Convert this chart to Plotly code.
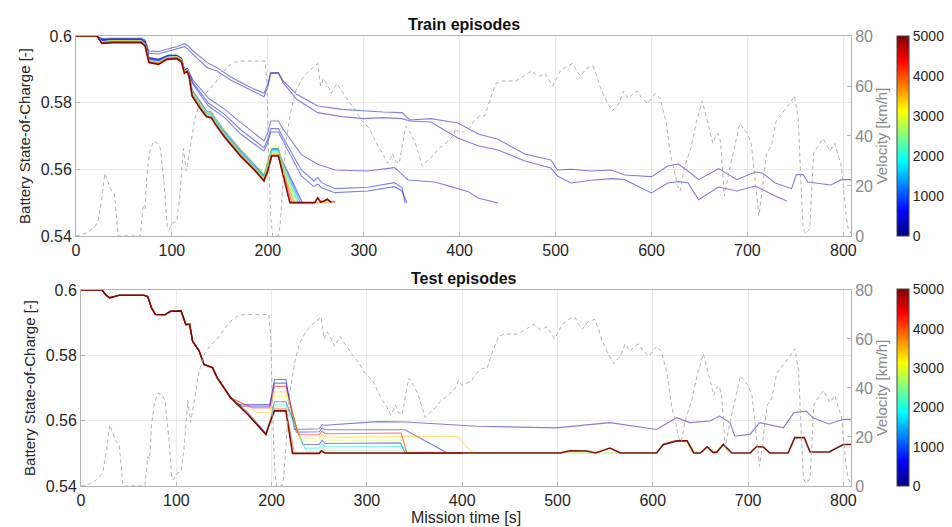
import plotly.graph_objects as go
from plotly.colors import sample_colorscale

# ---------------- data ----------------
# velocity profile (shared by both panels): time [s], velocity [km/h]
vel_t = [0, 10, 16, 20, 23, 27, 30, 34, 37, 40, 42, 44, 67, 69, 70, 72, 74, 77, 81, 85, 88, 90, 93, 95, 97, 100, 105, 108,
         112, 115, 118, 120, 124, 130, 135, 140, 145, 152, 159, 165, 173, 197, 199, 201, 203, 205, 211, 213, 214, 217,
         219, 224, 229, 236, 243, 252, 255, 258, 261, 264, 266, 270, 272, 277, 284, 292, 298, 306, 316, 320, 325, 328,
         330, 333, 337, 341, 344, 349, 353, 358, 361, 366, 372, 378, 382, 388, 393, 396, 400, 405, 410, 415, 421, 426,
         432, 438, 444, 451, 459, 467, 475, 481, 484, 489, 497, 505, 512, 518, 522, 526, 532, 539, 543, 547, 553, 559,
         566, 571, 576, 581, 585, 590, 596, 604, 609, 615, 620, 624, 627, 630, 634, 641, 647, 653, 658, 664, 667, 669,
         672, 676, 681, 685, 692, 700, 704, 706, 712, 716, 720, 725, 730, 738, 744, 749, 753, 756, 758, 761, 765, 769,
         772, 779, 786, 791, 798, 803, 805, 808]
vel_v = [0, 1, 2.5, 4, 6, 15, 25, 21, 18, 17, 8, 0, 0, 8, 12, 11, 25, 34, 38, 37, 35, 28, 16, 4, 2.5, 5, 6, 15,
         35, 26, 33, 38, 47, 54, 57, 59, 61, 65, 68, 69.5, 70, 70, 62, 30, 8, 0, 0, 5, 12, 28,
         38, 50, 58, 63, 66, 69, 60, 63, 61, 59, 57, 60, 61, 58, 54, 50, 46, 43, 35, 33, 29, 31,
         33, 30, 29, 38, 44, 41, 38, 32, 28, 30, 32, 35, 36, 38, 40, 43, 41, 42, 43, 46, 48, 48,
         55, 61, 62, 62, 62, 64, 66, 64, 64, 65, 60, 66, 68, 69, 66, 64, 67, 68, 64, 59, 54, 50,
         53, 58, 55, 57, 58, 55, 53, 57, 55, 46, 32, 26, 20, 18, 27, 35, 46, 54, 46, 37, 40, 41,
         38, 16, 26, 33, 45, 41, 37, 30, 8, 20, 33, 36, 46, 50, 53, 56, 47, 20, 3, 1, 3, 33,
         35, 39, 34, 37, 28, 8, 3, 1]

# ---- Train episodes ----
train_knots = [0, 22, 27, 38, 68, 72, 76, 86, 95, 105, 110, 113, 116, 118, 121, 130, 136, 141, 146, 155, 172, 186, 196,
               200, 204, 211, 214]
train_bundle_episodes = [800, 1200, 1600, 2000, 2400, 2900, 3300, 3700, 4300, 5000]
train_bundle_soc = [
    [0.6, 0.6, 0.5988, 0.599, 0.599, 0.598, 0.5932, 0.5928, 0.5942, 0.5942, 0.5933, 0.5898, 0.5903, 0.5888,
     0.5838, 0.5798, 0.5775, 0.5772, 0.575, 0.5715, 0.5657, 0.5614, 0.5582, 0.5622, 0.5662, 0.5662, 0.5632],
    [0.6, 0.6, 0.5987, 0.5989, 0.5989, 0.5979, 0.593, 0.5926, 0.594, 0.594, 0.5931, 0.5896, 0.5901, 0.5886,
     0.5834, 0.5793, 0.577, 0.5768, 0.5745, 0.571, 0.5652, 0.561, 0.5578, 0.5618, 0.566, 0.566, 0.5628],
    [0.6, 0.6, 0.5982, 0.5985, 0.5985, 0.5975, 0.5925, 0.592, 0.5935, 0.5937, 0.5928, 0.5893, 0.5898, 0.5882,
     0.583, 0.579, 0.5767, 0.5764, 0.5742, 0.5707, 0.5649, 0.5608, 0.5576, 0.5614, 0.5656, 0.5656, 0.5622],
    [0.6, 0.6, 0.5982, 0.5985, 0.5985, 0.5975, 0.5925, 0.592, 0.5935, 0.5937, 0.5928, 0.5893, 0.5898, 0.5882,
     0.5828, 0.5788, 0.5765, 0.5762, 0.574, 0.5705, 0.5647, 0.5606, 0.5574, 0.5612, 0.5654, 0.5654, 0.562],
    [0.6, 0.6, 0.5982, 0.5985, 0.5985, 0.5975, 0.5925, 0.592, 0.5935, 0.5937, 0.5928, 0.5893, 0.5898, 0.5882,
     0.5826, 0.5786, 0.5763, 0.576, 0.5738, 0.5703, 0.5645, 0.5604, 0.5572, 0.561, 0.565, 0.565, 0.5616],
    [0.6, 0.6, 0.5982, 0.5985, 0.5985, 0.5975, 0.5925, 0.592, 0.5935, 0.5937, 0.5928, 0.5893, 0.5898, 0.5882,
     0.5832, 0.5794, 0.5773, 0.577, 0.5748, 0.5716, 0.566, 0.5618, 0.5588, 0.5628, 0.5668, 0.5668, 0.5632],
    [0.6, 0.6, 0.5982, 0.5985, 0.5985, 0.5975, 0.5925, 0.592, 0.5935, 0.5937, 0.5928, 0.5893, 0.5898, 0.5882,
     0.5824, 0.5784, 0.5762, 0.5758, 0.5736, 0.5701, 0.5644, 0.5603, 0.557, 0.5607, 0.5648, 0.5648, 0.5614],
    [0.6, 0.6, 0.5981, 0.5984, 0.5984, 0.5974, 0.5924, 0.5919, 0.5934, 0.5936, 0.5927, 0.5892, 0.5897, 0.5881,
     0.5823, 0.5783, 0.576, 0.5757, 0.5734, 0.57, 0.5642, 0.5601, 0.5568, 0.5604, 0.5645, 0.5645, 0.561],
    [0.6, 0.6, 0.5979, 0.5982, 0.5982, 0.5972, 0.5922, 0.5917, 0.5932, 0.5934, 0.5925, 0.589, 0.5895, 0.588,
     0.5821, 0.5781, 0.5759, 0.5756, 0.5733, 0.5698, 0.564, 0.56, 0.5567, 0.5598, 0.5642, 0.5642, 0.5607],
    [0.6, 0.6, 0.5978, 0.598, 0.598, 0.597, 0.592, 0.5915, 0.593, 0.5932, 0.5922, 0.5888, 0.5893, 0.5878,
     0.582, 0.578, 0.5758, 0.5755, 0.5732, 0.5696, 0.5638, 0.5598, 0.5565, 0.5595, 0.564, 0.564, 0.5605],
]
train_bundle_tail_t = [[236], [234], [232], [231], [229], [231], [228], [227, 262, 266, 270],
                       [225, 249, 252, 255, 259, 262, 266, 270], [223, 249, 252, 255, 259, 262, 266]]
train_bundle_tail_soc = [[0.55], [0.55], [0.55], [0.55], [0.55], [0.55], [0.55], [0.55, 0.55, 0.5504, 0.5502],
                         [0.55, 0.55, 0.5514, 0.5503, 0.5506, 0.5511, 0.5502, 0.5502],
                         [0.55, 0.55, 0.5515, 0.5502, 0.5505, 0.551, 0.5501]]

train_a_ep = 300
train_a_t = [0, 22, 27, 38, 68, 72, 76, 86, 98, 105, 113, 117, 122, 137, 147, 161, 179, 196, 200, 203, 211, 216, 230,
             252, 277, 300, 320, 340, 348, 370, 398, 420, 440, 468, 495, 502, 516, 537, 558, 572, 600, 617, 628, 638,
             649, 670, 689, 708, 716, 729, 746, 751, 758, 763, 787, 798, 808]
train_a_soc = [0.6, 0.6, 0.5992, 0.5993, 0.5993, 0.5988, 0.5955, 0.5953, 0.5963, 0.5968, 0.5977, 0.597, 0.5955,
               0.592, 0.5905, 0.5878, 0.585, 0.5828, 0.5855, 0.589, 0.589, 0.5865, 0.5825, 0.579, 0.578, 0.5775,
               0.5772, 0.577, 0.5748, 0.5752, 0.5739, 0.5705, 0.569, 0.5646, 0.5628, 0.5598, 0.56, 0.5595, 0.5598,
               0.5583, 0.5578, 0.561, 0.5616, 0.5595, 0.5569, 0.5602, 0.5569, 0.5592, 0.5588, 0.5559, 0.5542,
               0.5584, 0.5584, 0.5562, 0.5553, 0.5569, 0.5569]
train_b_ep = 350
train_b_t = [0, 22, 27, 38, 68, 72, 76, 86, 98, 105, 113, 117, 122, 137, 147, 161, 179, 196, 200, 203, 211, 216, 230,
             252, 277, 300, 320, 340, 348, 370, 398, 420, 440, 468, 495, 502, 516, 537, 558, 572, 600, 617, 628, 638,
             649, 670, 689, 708, 729, 741]
train_b_soc = [0.6, 0.6, 0.599, 0.599, 0.599, 0.5985, 0.5948, 0.5946, 0.5955, 0.596, 0.5968, 0.596, 0.5945, 0.5905,
               0.5895, 0.5868, 0.5842, 0.5818, 0.5848, 0.5888, 0.5888, 0.586, 0.581, 0.577, 0.5758, 0.5752, 0.5755,
               0.5752, 0.5745, 0.5742, 0.5694, 0.567, 0.5658, 0.5625, 0.5604, 0.558, 0.5559, 0.5567, 0.5572, 0.5569,
               0.5529, 0.5559, 0.5563, 0.556, 0.5509, 0.5547, 0.5535, 0.555, 0.552, 0.5505]
train_c_ep = 400
train_c_t = [0, 22, 27, 38, 68, 72, 76, 86, 97, 105, 110, 113, 116, 118, 122, 138, 155, 172, 196, 200, 203, 211, 216,
             235, 252, 270, 304, 332, 339, 346, 374, 391, 409, 419, 440]
train_c_soc = [0.6, 0.6, 0.5988, 0.599, 0.599, 0.598, 0.5935, 0.593, 0.5942, 0.5942, 0.5932, 0.5898, 0.5902, 0.589,
               0.5868, 0.5814, 0.578, 0.574, 0.5685, 0.571, 0.5745, 0.5745, 0.572, 0.5644, 0.5615, 0.5598, 0.5595,
               0.5605, 0.5588, 0.5568, 0.5562, 0.5548, 0.5533, 0.5514, 0.5499]
train_d_ep = 450
train_d_t = [0, 22, 27, 38, 68, 72, 76, 86, 97, 105, 110, 113, 116, 118, 122, 138, 155, 172, 196, 200, 203, 211, 216,
             235, 248, 252, 256, 270, 304, 332, 340, 343]
train_d_soc = [0.6, 0.6, 0.5988, 0.599, 0.599, 0.598, 0.5935, 0.593, 0.5942, 0.5942, 0.5932, 0.5898, 0.5902, 0.5888,
               0.586, 0.5799, 0.5765, 0.5718, 0.5665, 0.569, 0.5722, 0.5722, 0.5695, 0.5598, 0.5565, 0.5575, 0.556,
               0.5542, 0.5546, 0.556, 0.5545, 0.5499]
train_e_ep = 500
train_e_t = [0, 22, 27, 38, 68, 72, 76, 86, 97, 105, 110, 113, 116, 118, 122, 138, 155, 172, 196, 200, 203, 211, 216,
             235, 248, 252, 256, 270, 304, 332, 340, 345]
train_e_soc = [0.6, 0.6, 0.5986, 0.5988, 0.5988, 0.5978, 0.593, 0.5926, 0.594, 0.594, 0.593, 0.5895, 0.59, 0.5885,
               0.5855, 0.579, 0.5755, 0.5705, 0.5655, 0.568, 0.5712, 0.5712, 0.5685, 0.558, 0.5548, 0.5556, 0.5545,
               0.553, 0.5535, 0.5548, 0.5535, 0.5499]

# ---- Test episodes ----
test_head_t = [0, 22, 26, 30, 40, 66, 70, 74, 78, 88, 94, 105, 110, 114, 117, 124, 129, 138, 143, 157]
test_head_soc = [0.6, 0.6, 0.5985, 0.5976, 0.5984, 0.5984, 0.598, 0.5945, 0.5925, 0.5924, 0.5935, 0.5936, 0.5894,
                 0.5895, 0.5844, 0.5813, 0.5772, 0.5762, 0.5731, 0.567]
test_episodes = [300, 500, 700, 1800, 2400, 3000, 3400, 4000, 4400, 5000]
test_tail_t = [
    [165, 198, 203, 215, 224, 250, 253, 256, 311, 340, 416, 499, 555, 604, 625, 639, 660, 670, 681, 686, 702, 712,
     737, 748, 761, 768, 785, 800, 808],
    [168, 198, 203, 215, 226, 250, 253, 256, 340, 385, 400],
    [175, 194, 198, 203, 215, 233, 250, 253, 256, 335, 340, 400],
    [175, 194, 198, 203, 215, 235, 250, 253, 256, 338, 342, 604, 611, 625, 636, 643, 650, 657, 667, 674, 681],
    [175, 194, 198, 203, 215, 237, 250, 253, 256, 340, 400],
    [175, 194, 198, 203, 215, 231, 250, 253, 256, 338, 344, 604, 611, 625, 634, 640, 650, 657, 667, 674, 681],
    [185, 198, 203, 215, 230, 250, 253, 256, 395, 410, 420],
    [175, 194, 198, 203, 215, 224, 250, 253, 256, 400],
    [180, 198, 203, 215, 228, 250, 253, 256, 336, 342, 400],
    [175, 194, 198, 203, 215, 222, 250, 252, 256, 400, 503, 513, 531, 540, 555, 566, 604, 611, 625, 636, 643, 650,
     657, 663, 667, 674, 683, 702, 709, 716, 723, 742, 749, 759, 765, 785, 800, 808],
]
test_tail_soc = [
    [0.5649, 0.5649, 0.5726, 0.5726, 0.5573, 0.5575, 0.5588, 0.5586, 0.5597, 0.5596, 0.5583, 0.5578, 0.5594,
     0.5573, 0.5609, 0.5594, 0.5599, 0.5614, 0.5594, 0.5553, 0.5558, 0.5594, 0.5578, 0.5624, 0.5629, 0.5609,
     0.559, 0.5604, 0.5604],
    [0.5644, 0.5644, 0.5715, 0.5715, 0.5565, 0.5566, 0.5578, 0.5572, 0.5572, 0.55, 0.5502],
    [0.5625, 0.5562, 0.5596, 0.5658, 0.5658, 0.5527, 0.5527, 0.554, 0.553, 0.5532, 0.5501, 0.5501],
    [0.562, 0.5559, 0.5593, 0.5648, 0.5648, 0.5516, 0.5516, 0.553, 0.552, 0.5521, 0.5501, 0.5501, 0.5525, 0.5537,
     0.5537, 0.5505, 0.5501, 0.5519, 0.5503, 0.5526, 0.5497],
    [0.562, 0.5558, 0.5592, 0.5642, 0.5642, 0.5506, 0.5506, 0.552, 0.5508, 0.5508, 0.5501],
    [0.5622, 0.556, 0.5594, 0.5675, 0.5675, 0.5537, 0.5537, 0.5549, 0.554, 0.5541, 0.5502, 0.5502, 0.5528, 0.554,
     0.5535, 0.5515, 0.5501, 0.552, 0.5505, 0.5528, 0.5492],
    [0.5625, 0.5625, 0.5688, 0.5688, 0.5547, 0.5547, 0.5558, 0.555, 0.5552, 0.5505, 0.5502],
    [0.5619, 0.5558, 0.5592, 0.5636, 0.5636, 0.55, 0.55, 0.5508, 0.5501, 0.5501],
    [0.5639, 0.5639, 0.5705, 0.5705, 0.5557, 0.5557, 0.5568, 0.556, 0.5562, 0.55, 0.5502],
    [0.5619, 0.5558, 0.5592, 0.563, 0.563, 0.55, 0.55, 0.5507, 0.5501, 0.5502, 0.5501, 0.5508, 0.5507, 0.5501,
     0.5516, 0.5501, 0.5501, 0.5527, 0.5538, 0.5538, 0.5501, 0.5501, 0.552, 0.5503, 0.5503, 0.5527, 0.5501,
     0.5501, 0.5521, 0.5519, 0.5501, 0.5501, 0.5548, 0.5548, 0.5504, 0.5504, 0.5527, 0.5527],
]

x_ticks = [0, 100, 200, 300, 400, 500, 600, 700, 800]
soc_ticks = [0.54, 0.56, 0.58, 0.6]
soc_ticktext = ["0.54", "0.56", "0.58", "0.6"]
vel_ticks = [0, 20, 40, 60, 80]
cbar_ticks = [0, 1000, 2000, 3000, 4000, 5000]
EP_MAX = 5000

# ---------------- styling ----------------
JET = [[0, "rgb(0,0,128)"], [0.125, "rgb(0,0,255)"], [0.375, "rgb(0,255,255)"],
       [0.625, "rgb(255,255,0)"], [0.875, "rgb(255,0,0)"], [1, "rgb(128,0,0)"]]


def ep_color(ep, alpha):
    c = sample_colorscale(JET, [ep / EP_MAX])[0]
    return c.replace("rgb(", "rgba(").replace(")", ",%g)" % alpha)


TXT = "#262626"
GRID = "#ebebeb"
AXL = "#b4b4b4"
VEL = "rgba(165,165,165,0.85)"
FONT = "Liberation Sans, Arial, sans-serif"

fig = go.Figure()

# velocity traces
fig.add_trace(go.Scatter(x=vel_t, y=vel_v, mode="lines", xaxis="x", yaxis="y3",
                         line=dict(color=VEL, width=1, dash="4px,3px"), hoverinfo="skip"))
fig.add_trace(go.Scatter(x=vel_t, y=vel_v, mode="lines", xaxis="x2", yaxis="y4",
                         line=dict(color=VEL, width=1, dash="4px,3px"), hoverinfo="skip"))

# train blue (early) episodes
for ep, tt, ss in [(train_a_ep, train_a_t, train_a_soc), (train_b_ep, train_b_t, train_b_soc),
                   (train_c_ep, train_c_t, train_c_soc), (train_d_ep, train_d_t, train_d_soc),
                   (train_e_ep, train_e_t, train_e_soc)]:
    fig.add_trace(go.Scatter(x=tt, y=ss, mode="lines", xaxis="x", yaxis="y",
                             line=dict(color=ep_color(ep, 0.5), width=1.1)))
# train bundle
for i, ep in enumerate(train_bundle_episodes):
    last = i == len(train_bundle_episodes) - 1
    fig.add_trace(go.Scatter(x=train_knots + train_bundle_tail_t[i],
                             y=train_bundle_soc[i] + train_bundle_tail_soc[i],
                             mode="lines", xaxis="x", yaxis="y",
                             line=dict(color=ep_color(ep, 0.95 if last else 0.55), width=1.6 if last else 1.3)))

# test episodes
for i, ep in enumerate(test_episodes):
    last = i == len(test_episodes) - 1
    fig.add_trace(go.Scatter(x=test_head_t + test_tail_t[i], y=test_head_soc + test_tail_soc[i],
                             mode="lines", xaxis="x2", yaxis="y2",
                             line=dict(color=ep_color(ep, 0.95 if last else 0.5), width=1.6 if last else 1.1)))

# colorbars
for ycen, ln in [(0.7778, 0.4444), (0.2183, 0.4367)]:
    fig.add_trace(go.Scatter(x=[None], y=[None], mode="markers", xaxis="x", yaxis="y",
                             marker=dict(color=[0], colorscale=JET, cmin=0, cmax=EP_MAX, showscale=True,
                                         colorbar=dict(x=1.0594, xanchor="left", y=ycen, yanchor="middle",
                                                       len=ln, lenmode="fraction", thickness=12,
                                                       xpad=0, ypad=0, outlinecolor="#444", outlinewidth=1,
                                                       tickvals=cbar_ticks, ticks="", ticklabelposition="outside",
                                                       tickfont=dict(size=14, color=TXT, family=FONT))),
                             hoverinfo="skip"))

xcommon = dict(range=[0, 808], tickvals=x_ticks, showgrid=True, gridcolor=GRID, showline=True, linecolor=AXL,
               mirror=True, ticks="inside", ticklen=4, tickcolor=AXL, zeroline=False,
               tickfont=dict(size=16, color=TXT, family=FONT))
ycommon = dict(range=[0.54, 0.6], tickvals=soc_ticks, ticktext=soc_ticktext, showgrid=True, gridcolor=GRID,
               showline=True, linecolor=AXL, ticks="inside", ticklen=4, tickcolor=AXL, zeroline=False,
               tickfont=dict(size=16, color=TXT, family=FONT),
               title=dict(text="Battery State-of-Charge [-]", font=dict(size=15, color=TXT, family=FONT),
                          standoff=6))
vcommon = dict(range=[0, 80], tickvals=vel_ticks, side="right", showgrid=False, showline=True, linecolor=AXL,
               ticks="inside", ticklen=4, tickcolor=AXL, zeroline=False,
               tickfont=dict(size=16, color="#8a8a8a", family=FONT),
               title=dict(text="Velocity [km/h]", font=dict(size=15, color="#8a8a8a", family=FONT), standoff=4))

fig.update_layout(
    width=952, height=527, showlegend=False, plot_bgcolor="white", paper_bgcolor="white",
    margin=dict(l=68, r=109, t=28, b=49),
    font=dict(family=FONT, color=TXT),
    xaxis=dict(domain=[0, 1], anchor="y", **xcommon),
    yaxis=dict(domain=[0.5556, 1], anchor="x", **ycommon),
    yaxis3=dict(overlaying="y", anchor="x", **vcommon),
    xaxis2=dict(domain=[0.0065, 1], anchor="y2",
                title=dict(text="Mission time [s]", font=dict(size=16, color=TXT, family=FONT), standoff=3),
                **xcommon),
    yaxis2=dict(domain=[0, 0.4356], anchor="x2", **ycommon),
    yaxis4=dict(overlaying="y2", anchor="x2", **vcommon),
    annotations=[
        dict(text="<b>Train episodes</b>", x=0.5, y=1, xref="paper", yref="paper", xanchor="center",
             yanchor="bottom", yshift=1, showarrow=False, font=dict(size=16, color="#111", family=FONT)),
        dict(text="<b>Test episodes</b>", x=0.5, y=0.4356, xref="paper", yref="paper", xanchor="center",
             yanchor="bottom", yshift=1, showarrow=False, font=dict(size=16, color="#111", family=FONT)),
    ],
)

fig.write_html("out.html")
